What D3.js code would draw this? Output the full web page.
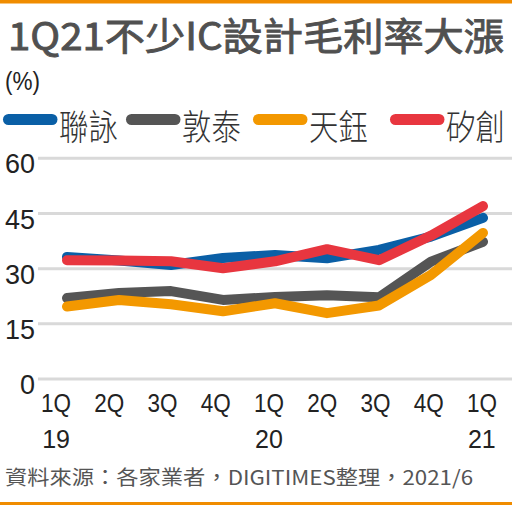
<!DOCTYPE html>
<html><head><meta charset="utf-8">
<script src="https://cdn.jsdelivr.net/npm/d3@7"></script>
<style>html,body{margin:0;padding:0;background:#fff;}svg{display:block;}</style>
</head><body>
<script>
const quarters = ["1Q19","2Q19","3Q19","4Q19","1Q20","2Q20","3Q20","4Q20","1Q21"];
const qLabels = ["1Q","2Q","3Q","4Q","1Q","2Q","3Q","4Q","1Q"];
const yearLabels = ["19","","","","20","","","","21"];
const seriesNames = ["聯詠","敦泰","天鈺","矽創"];
const novatek = [33.2, 32.2, 31.0, 32.9, 33.7, 32.8, 35.1, 38.7, 43.8];
const focaltech = [22.0, 23.4, 23.9, 21.5, 22.3, 22.8, 22.2, 31.9, 37.3];
const fitipower = [19.7, 21.5, 20.3, 18.4, 20.6, 17.9, 20.0, 28.3, 39.7];
const sitronix = [32.3, 32.2, 32.0, 30.1, 32.0, 35.3, 32.3, 39.0, 47.0];
const yTicks = [0, 15, 30, 45, 60];
const colors = ["#0a5fa6", "#555555", "#f39800", "#e8363f"];
const seriesValues = [novatek, focaltech, fitipower, sitronix];

const W = 512, H = 505;
const svg = d3.select("body").append("svg").attr("width", W).attr("height", H);

svg.append("rect").attr("x",0).attr("y",0).attr("width",W).attr("height",3.5).attr("fill","#f08c00");
svg.append("rect").attr("x",0).attr("y",H-3).attr("width",W).attr("height",3).attr("fill","#f08c00");

svg.append("text").attr("x",8).attr("y",50)
  .attr("font-family","'Noto Sans CJK TC','Noto Sans',sans-serif")
  .attr("font-weight","normal").attr("font-size",38).attr("fill","#505050")
  .attr("stroke","#505050").attr("stroke-width",0.9)
  .attr("textLength",496).attr("lengthAdjust","spacingAndGlyphs")
  .text("1Q21不少IC設計毛利率大漲");

svg.append("text").attr("x",5).attr("y",90)
  .attr("font-family","'Liberation Sans',Arial,sans-serif")
  .attr("font-size",25).attr("fill","#222")
  .attr("textLength",35).attr("lengthAdjust","spacingAndGlyphs")
  .text("(%)");

// legend
const legX = [3, 126, 253, 390];
const leg = svg.append("g");
seriesNames.forEach((n,i)=>{
  leg.append("line").attr("x1",legX[i]+5.5).attr("x2",legX[i]+49).attr("y1",119.5).attr("y2",119.5)
    .attr("stroke",colors[i]).attr("stroke-width",11).attr("stroke-linecap","round");
  leg.append("text").attr("transform",`translate(${legX[i]+56},139.5) scale(0.98,1.17)`)
    .attr("font-family","'Noto Sans CJK TC',sans-serif").attr("font-size",30).attr("font-weight",300)
    .attr("fill","#333").text(n);
});

const x = d3.scalePoint().domain(quarters).range([67, 483]);
const xb = d3.scaleBand().domain(quarters).range([29.5, 508.5]);
const y = d3.scaleLinear().domain([0, 60]).range([379, 158.3]);

// grid
svg.append("g").selectAll("line").data(yTicks).join("line")
  .attr("x1",38).attr("x2",W).attr("y1",d=>y(d)).attr("y2",d=>y(d))
  .attr("stroke","#d9d9d9").attr("stroke-width",3);

// y labels
const yAxis = svg.append("g").attr("transform","translate(35,0)")
  .call(d3.axisLeft(y).tickValues(yTicks).tickSize(0).tickPadding(0));
yAxis.select(".domain").remove();
yAxis.selectAll("text").attr("font-family","'Liberation Sans',Arial,sans-serif")
  .attr("font-size",28).attr("fill","#222").attr("dy","0.52em")
  .attr("textLength",d=>String(d).length*15).attr("lengthAdjust","spacingAndGlyphs");

// x labels
const xAxis = svg.append("g")
  .call(d3.axisBottom(xb).tickSize(0).tickFormat((d,i)=>qLabels[i]));
xAxis.select(".domain").remove();
xAxis.selectAll("text").attr("y",412).attr("dy",0)
  .attr("font-family","'Liberation Sans',Arial,sans-serif").attr("font-size",25).attr("fill","#222")
  .attr("textLength",30).attr("lengthAdjust","spacingAndGlyphs");
svg.append("g").selectAll("text").data(quarters).join("text")
  .attr("x",d=>xb(d)+xb.bandwidth()/2).attr("y",448).attr("text-anchor","middle")
  .attr("font-family","'Liberation Sans',Arial,sans-serif").attr("font-size",25).attr("fill","#222")
  .text((d,i)=>yearLabels[i]);

// lines
const line = d3.line().x((d,i)=>x(quarters[i])).y(d=>y(d));
svg.append("g").selectAll("path").data(seriesValues).join("path")
  .attr("d",d=>line(d)).attr("fill","none").attr("stroke",(d,i)=>colors[i])
  .attr("stroke-width",10).attr("stroke-linecap","round").attr("stroke-linejoin","round");

// source
svg.append("text").attr("x",5).attr("y",485)
  .attr("font-family","'Noto Sans CJK TC',sans-serif").attr("font-size",20).attr("fill","#555")
  .attr("textLength",468).attr("lengthAdjust","spacingAndGlyphs")
  .text("資料來源：各家業者，DIGITIMES整理，2021/6");
</script>
</body></html>
